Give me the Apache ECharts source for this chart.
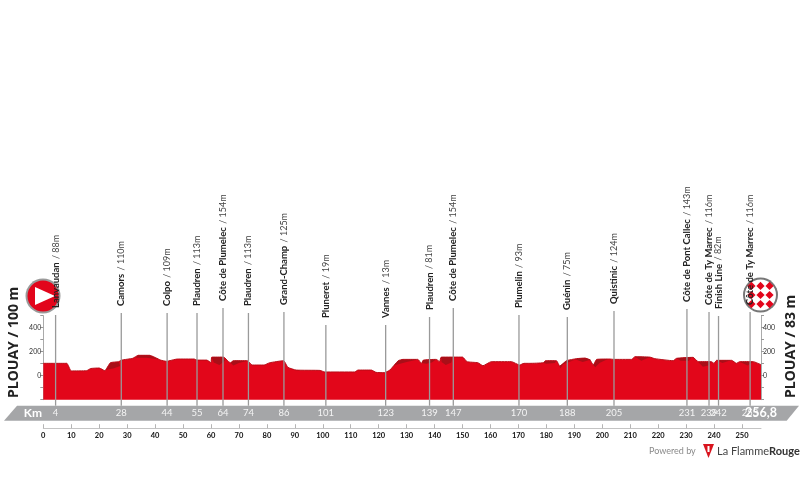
<!DOCTYPE html>
<html>
<head>
<meta charset="utf-8">
<title>Plouay</title>
<script src="https://cdn.jsdelivr.net/npm/echarts@6/dist/echarts.min.js"></script>
<style>
  html, body { margin: 0; padding: 0; background: #fff; }
  #main { width: 800px; height: 484px; }
</style>
</head>
<body>
<div id="main"></div>
<script>
// elevation profile: km, metres
const profileKm = [0, 4, 8.4, 10, 15.5, 17, 20, 22, 24, 27, 28, 32, 34, 38, 42, 44, 48, 54, 55, 58.5, 60, 60.3, 64.5, 66.3, 67, 68, 73, 74.7, 79, 81, 86, 87.5, 90.5, 99, 100.7, 111.4, 112.6, 117.4, 119, 122, 124, 127, 128.7, 134, 135.3, 136, 140.6, 141.8, 142.4, 150, 151.6, 155.5, 157.3, 160.3, 167.5, 170.4, 172, 174.1, 178.9, 179.7, 183.6, 184.8, 187.2, 190.8, 193.8, 195.6, 196.8, 198, 202.7, 204, 210.5, 211.7, 217, 218.8, 225.4, 226.6, 232.5, 234.3, 239, 240, 240.9, 246.3, 248, 249.2, 254, 256.8];
const profileElev = [103, 103, 103, 40, 42, 60, 64, 42, 108, 117, 130, 145, 170, 170, 130, 120, 139, 139, 130, 130, 108, 155, 155, 117, 108, 125, 125, 89, 89, 108, 125, 70, 47, 44, 31, 31, 47, 47, 28, 25, 47, 125, 136, 136, 103, 130, 136, 117, 155, 155, 117, 108, 83, 117, 117, 89, 103, 103, 108, 125, 125, 80, 125, 142, 147, 131, 89, 136, 139, 136, 136, 158, 155, 142, 125, 145, 153, 117, 117, 103, 128, 128, 103, 117, 117, 92];

// darker climb patches on the profile, [km, metres]
const climbPatches = [
  [[22.5, 50], [24, 105], [27, 115], [27.5, 80], [25, 60]],
  [[33, 150], [34, 170], [38, 170], [41, 138], [37, 150]],
  [[60.3, 150], [61, 155], [64.5, 155], [65, 125], [63, 90], [61, 110]],
  [[67, 108], [68, 125], [73, 125], [70, 105], [68, 85]],
  [[125, 70], [127, 125], [128.7, 136], [134, 136], [130, 115], [126, 90]],
  [[135.5, 105], [136, 130], [140.5, 136], [139, 110], [137, 100]],
  [[142.4, 155], [146.5, 155], [146, 110], [144, 90], [142.5, 115]],
  [[178.9, 108], [179.7, 125], [183.6, 125], [183, 105], [180, 100]],
  [[184.8, 80], [187.2, 125], [190, 130], [186, 95], [185, 60]],
  [[190, 140], [193.8, 147], [196, 135], [193, 115]],
  [[196.8, 89], [198, 136], [202, 139], [199, 105], [197.5, 70]],
  [[211.7, 158], [217, 155], [214, 125]],
  [[226.6, 145], [232, 153], [231, 125], [228, 125]],
  [[234.3, 117], [239, 117], [238, 85], [236, 75]],
  [[240.9, 128], [246, 128], [243, 105]],
  [[249.2, 117], [254, 117], [252, 85]]
];

// checkpoints along the route
const placeNames = ['Lanvaudan', 'Camors', 'Colpo', 'Plaudren', 'Côte de Plumelec', 'Plaudren', 'Grand-Champ', 'Pluneret', 'Vannes', 'Plaudren', 'Côte de Plumelec', 'Plumelin', 'Guénin', 'Quistinic', 'Côte de Pont Callec', 'Côte de Ty Marrec', 'Finish Line', 'Côte de Ty Marrec'];
const placeHeights = ['88m', '110m', '109m', '113m', '154m', '113m', '125m', '19m', '13m', '81m', '154m', '93m', '75m', '124m', '143m', '116m', '82m', '116m'];
const placeKmLabels = ['4', '28', '44', '55', '64', '74', '86', '101', '123', '139', '147', '170', '188', '205', '231', '239', '242', '253'];
const placeKm = [4.4, 27.9, 44.3, 55, 64.3, 73.4, 86.1, 101.1, 122.5, 138.2, 146.7, 170.2, 187.5, 204.2, 230.3, 238.2, 241.6, 252.9];
const totalKm = 256.8;

const yTickLabels = ['0', '200', '400'];

// layout only: pixel row where each stem starts
const stemTops = [315, 313, 313, 313, 308, 313, 312, 325, 325, 317, 308, 315, 317, 311, 309, 312, 316, 312];

const checkerCells = [];
for (let i = -2; i <= 2; i++) {
  for (let j = -2; j <= 2; j++) {
    if ((i + j + 4) % 2 === 0 && Math.hypot(i, j) < 2.3) {
      checkerCells.push({ type: 'rect', shape: { x: i * 6.4 - 2.9, y: j * 6.4 - 2.9, width: 5.8, height: 5.8 }, style: { fill: '#e2051b' } });
    }
  }
}

const myChart = echarts.init(document.getElementById('main'), null, { renderer: 'canvas' });
const labelFont = 'Lato, "Open Sans", sans-serif';

myChart.setOption({
  animation: false,
  backgroundColor: '#fff',
  grid: { left: 43.3, width: 717.7, top: 315.7, height: 84 },
  xAxis: {
    type: 'value',
    min: 0,
    max: totalKm,
    interval: 10,
    offset: 28.5,
    position: 'bottom',
    splitLine: { show: false },
    axisLine: { show: true, onZero: false, lineStyle: { color: '#c4c4c4', width: 1 } },
    axisTick: { show: true, inside: true, length: 4, lineStyle: { color: '#b5b5b5' } },
    axisLabel: { margin: 3, showMaxLabel: false, color: '#111', fontSize: 7.5, fontWeight: 'bold', fontFamily: labelFont }
  },
  yAxis: [0, 1].map(function (i) {
    return {
      type: 'value',
      min: -200,
      max: 500,
      interval: 100,
      position: i === 0 ? 'left' : 'right',
      splitLine: { show: false },
      axisLine: { show: true, onZero: false, lineStyle: { color: '#aaa' } },
      axisTick: { show: true, length: 3, lineStyle: { color: '#999' } },
      axisLabel: {
        margin: 2,
        color: '#333',
        fontSize: 7,
        fontFamily: labelFont,
        formatter: function (v) { return yTickLabels.indexOf(String(v)) >= 0 ? String(v) : ''; }
      }
    };
  }),
  series: [
    {
      type: 'line',
      data: profileKm.map(function (k, i) { return [k, profileElev[i]]; }),
      symbol: 'none',
      smooth: 0.15,
      z: 3,
      lineStyle: { color: '#b80d18', width: 1 },
      areaStyle: { color: '#e2061a', origin: 'start', opacity: 1 }
    },
    {
      type: 'custom',
      z: 4,
      silent: true,
      data: climbPatches.map(function (p, i) { return [i]; }),
      encode: { x: -1, y: -1 },
      clip: false,
      renderItem: function (params, api) {
        const pts = climbPatches[api.value(0)].map(function (p) { return api.coord(p); });
        return { type: 'polygon', shape: { points: pts }, style: { fill: '#a90f18' } };
      }
    },
    {
      type: 'custom',
      z: 5,
      silent: true,
      data: placeKm.map(function (k, i) { return [k, i]; }),
      encode: { x: 0 },
      clip: false,
      renderItem: function (params, api) {
        const i = api.value(1);
        const x = api.coord([api.value(0), 0])[0];
        const top = stemTops[i];
        return {
          type: 'group',
          children: [
            { type: 'line', shape: { x1: x, y1: top, x2: x, y2: 405.7 }, style: { stroke: '#9a9a9a', lineWidth: 1.3 } },
            {
              type: 'text', x: x, y: top - 7, rotation: Math.PI / 2,
              style: {
                text: '{n|' + placeNames[i] + '} {h|/ ' + placeHeights[i] + '}',
                align: 'left', verticalAlign: 'middle',
                rich: {
                  n: { fontFamily: labelFont, fontSize: 9.5, fontWeight: 'bold', fill: '#222' },
                  h: { fontFamily: labelFont, fontSize: 9, fill: '#444' }
                }
              }
            },
            {
              type: 'text', x: x, y: 413,
              style: { text: placeKmLabels[i], fill: '#f4f4f4', font: '9.5px ' + labelFont, align: 'center', verticalAlign: 'middle' }
            }
          ]
        };
      }
    }
  ],
  graphic: [
    { type: 'polygon', z: 0, shape: { points: [[17, 405.7], [799, 405.7], [786.7, 420.7], [4, 420.7]] }, style: { fill: '#a5a6a8' } },
    { type: 'text', z: 1, x: 33, y: 413, style: { text: 'Km', fill: '#fff', font: 'bold 12px ' + labelFont, align: 'center', verticalAlign: 'middle' } },
    { type: 'text', z: 6, zlevel: 0, x: 761, y: 413, style: { text: totalKm.toFixed(1).replace('.', ','), fill: '#fff', font: 'bold 12.5px ' + labelFont, align: 'center', verticalAlign: 'middle' } },
    { type: 'text', x: 14, y: 398, rotation: Math.PI / 2, style: { text: 'PLOUAY / 100 m', fill: '#222', font: 'bold 14px "Open Sans", sans-serif', align: 'left', verticalAlign: 'middle' } },
    { type: 'text', x: 791, y: 398, rotation: Math.PI / 2, style: { text: 'PLOUAY / 83 m', fill: '#222', font: 'bold 14px "Open Sans", sans-serif', align: 'left', verticalAlign: 'middle' } },
    // start badge
    {
      type: 'group', x: 43, y: 296, z: 1,
      children: [
        { type: 'circle', shape: { cx: 0, cy: 0, r: 17.5 }, style: { fill: '#9a9a9a' } },
        { type: 'circle', shape: { cx: 0, cy: 0, r: 15.5 }, style: { fill: '#e2051b' } },
        { type: 'polygon', shape: { points: [[-8, -9], [-8, 9], [12, 0]] }, style: { fill: '#fff' } }
      ]
    },
    // finish badge
    {
      type: 'group', x: 760.5, y: 295, rotation: Math.PI / 4, z: 1,
      children: [
        { type: 'circle', shape: { cx: 0, cy: 0, r: 17.5 }, style: { fill: '#777' } },
        { type: 'circle', shape: { cx: 0, cy: 0, r: 15.5 }, style: { fill: '#fff' } }
      ].concat(checkerCells)
    },
    // footer credit
    { type: 'text', x: 649, y: 451, style: { text: 'Powered by', fill: '#8a8a8a', font: '9px ' + labelFont, align: 'left', verticalAlign: 'middle' } },
    { type: 'polygon', shape: { points: [[703, 444], [714, 444], [708.5, 458]] }, style: { fill: '#d9141e' } },
    { type: 'rect', shape: { x: 707.5, y: 446, width: 2, height: 6 }, style: { fill: '#fff' } },
    {
      type: 'text', x: 717, y: 451,
      style: {
        text: '{a|La Flamme}{b|Rouge}', align: 'left', verticalAlign: 'middle',
        rich: {
          a: { fontFamily: labelFont, fontSize: 11, fill: '#444' },
          b: { fontFamily: labelFont, fontSize: 11, fontWeight: 'bold', fill: '#333' }
        }
      }
    }
  ]
});

window.addEventListener('resize', () => {
  myChart.resize();
});
</script>
</body>
</html>
